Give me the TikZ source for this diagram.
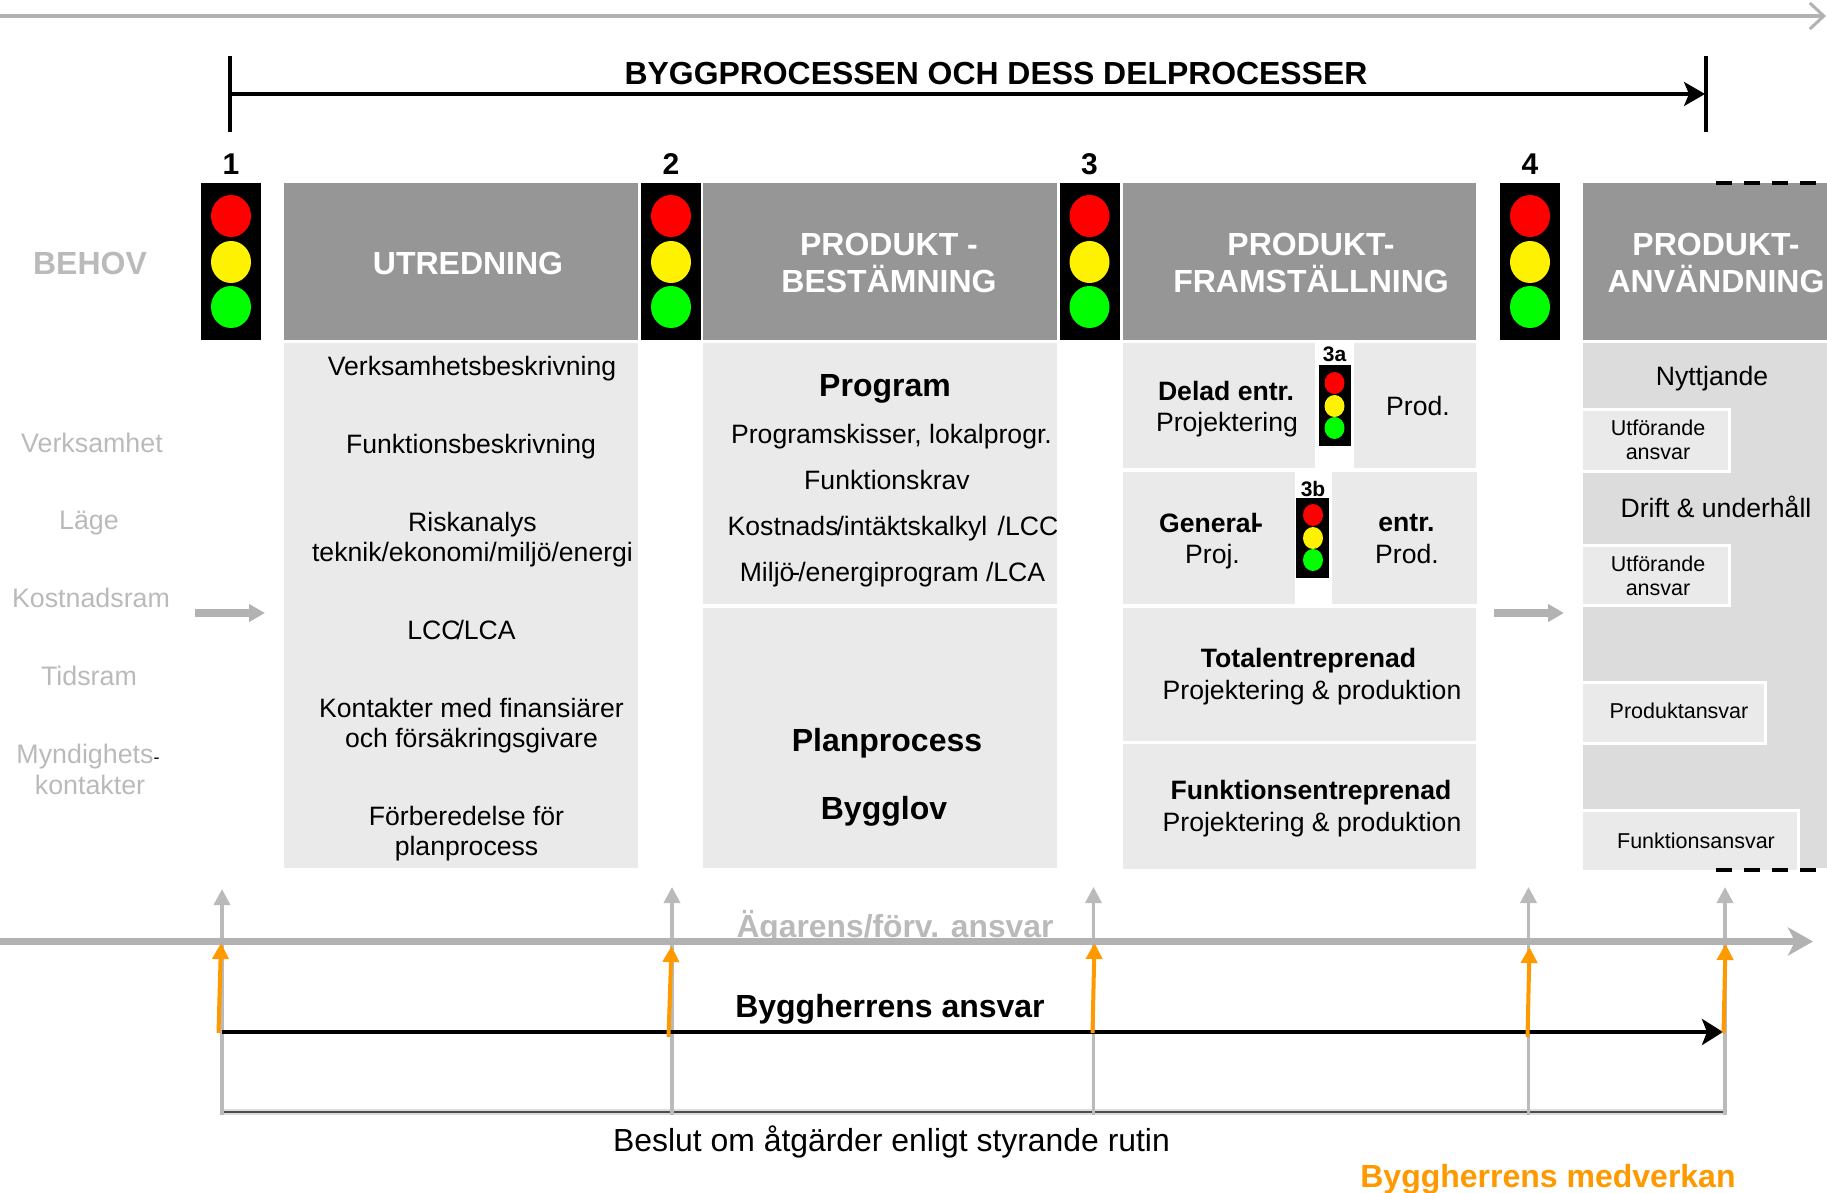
\documentclass[tikz,border=0pt]{standalone}
\usepackage{fontspec}
\setmainfont{Liberation Sans}
\usetikzlibrary{shapes.geometric,arrows.meta}
\definecolor{headgray}{HTML}{969696}
\definecolor{cellgray}{HTML}{EAEAEA}
\definecolor{usegray}{HTML}{DCDCDC}
\definecolor{labelgray}{HTML}{BABABA}
\definecolor{linegray}{HTML}{B2B2B2}
\definecolor{ordergold}{HTML}{FF9900}
\tikzstyle{boxbase}=[rectangle, anchor=north west, inner sep=0pt, outer sep=0pt]
\tikzstyle{head}=[boxbase, fill=headgray]
\tikzstyle{cell}=[boxbase, fill=cellgray]
\tikzstyle{duty}=[boxbase, fill=cellgray, draw=white, line width=3pt]
\tikzstyle{signal}=[boxbase, fill=black]
\tikzstyle{headtext}=[align=center, text=white, font=\fontsize{32}{37}\selectfont\bfseries]
\tikzstyle{celltext}=[align=center, font=\fontsize{26.6}{30.5}\selectfont]
\tikzstyle{boldtext}=[align=center, font=\fontsize{26.6}{30.5}\selectfont\bfseries]
\tikzstyle{bigtext}=[align=center, font=\fontsize{32}{37}\selectfont\bfseries]
\tikzstyle{smalltext}=[align=center, font=\fontsize{21.5}{24}\selectfont]
\tikzstyle{sidetext}=[align=center, text=labelgray, font=\fontsize{26.8}{30.5}\selectfont]
\tikzstyle{number}=[font=\fontsize{30}{34}\selectfont\bfseries]
\tikzstyle{lamp}=[ellipse, inner sep=0pt, minimum width=40pt, minimum height=42pt]
\tikzstyle{smalllamp}=[ellipse, inner sep=0pt, minimum width=20pt, minimum height=22pt]

\begin{document}
\begin{tikzpicture}[
        x=1pt, y=-1pt,
        greyline/.style={line width=3.5pt, draw=labelgray, -{Triangle[width=16pt,length=16pt]}},
        orangeline/.style={line width=4pt, draw=ordergold, -{Triangle[width=16pt,length=16pt]}},
        hint/.style={line width=8pt, draw=linegray, -{Triangle[width=17pt,length=16pt]}},
      ]
      \useasboundingbox (0,0) rectangle (1827,1193);
      % top rule and title
      \coordinate (topleft) at (0,16);
      \coordinate (topright) at (1826,16);
      \draw [line width=3.5pt, draw=linegray, -{Straight Barb[length=14pt,width=26pt,line width=3pt]}] (topleft) -- (topright);
      \coordinate (spanl) at (230,94);
      \coordinate (spanr) at (1705,94);
      \coordinate (tickla) at (230,56);
      \coordinate (ticklb) at (230,132);
      \coordinate (tickra) at (1706,56);
      \coordinate (tickrb) at (1706,132);
      \draw [line width=3.5pt] (tickla) -- (ticklb);
      \draw [line width=3.5pt] (tickra) -- (tickrb);
      \draw [line width=3.5pt, -{Stealth[length=21pt,width=24pt,inset=5pt]}] (spanl) -- (spanr);
      \node (title) [font=\fontsize{31.9}{38}\selectfont\bfseries] at (996,74) {BYGGPROCESSEN OCH DESS DELPROCESSER};

      % header row
      \node (utredning) [head, minimum width=354pt, minimum height=157pt] at (283.5,183) {};
      \node (bestamning) [head, minimum width=354pt, minimum height=157pt] at (703,183) {};
      \node (framstallning) [head, minimum width=353pt, minimum height=157pt] at (1123,183) {};
      \node (anvandning) [head, minimum width=244pt, minimum height=157pt] at (1583,183) {};
      \node (utredningtext) [headtext] at (468,263) {UTREDNING};
      \node (bestamningtext) [headtext] at (889,263) {PRODUKT -\\BESTÄMNING};
      \node (framstallningtext) [headtext] at (1311,263) {PRODUKT-\\FRAMSTÄLLNING};
      \node (anvandningtext) [headtext] at (1716,263) {PRODUKT-\\ANVÄNDNING};
      \node (behov) [text=labelgray, font=\fontsize{32}{37}\selectfont\bfseries] at (90,263) {BEHOV};

      % big signals
      \foreach \name/\lx/\num in {one/231/1, two/671/2, three/1089.5/3, four/1530/4} {
        \node (\name) [signal, minimum width=60pt, minimum height=157pt] at (\lx-30,183) {};
        \node (\name red) [lamp, fill=red] at (\lx,216) {};
        \node (\name yellow) [lamp, fill=yellow] at (\lx,262) {};
        \node (\name green) [lamp, fill=green] at (\lx,307) {};
        \node (\name num) [number] at (\lx,164) {\num};
      }

      % first column
      \node (utredningcell) [cell, minimum width=354pt, minimum height=525pt] at (283.5,343) {};
      \node (verksamhet) [celltext] at (472,368.5) {Verksamhetsbeskrivning};
      \node (funktion) [celltext] at (471,446.5) {Funktionsbeskrivning};
      \node (risk) [celltext] at (472.5,539.5) {Riskanalys\\teknik/ekonomi/miljö/energi};
      \node (lcc) [celltext] at (461.5,629.5) {LCC\kern-4pt/LCA};
      \node (kontakter) [celltext] at (471.5,725.5) {Kontakter med finansiärer\\och försäkringsgivare};
      \node (forberedelse) [celltext] at (466.5,833.5) {Förberedelse för\\planprocess};

      % second column
      \node (programcell) [cell, minimum width=354pt, minimum height=261pt] at (703,343) {};
      \node (plancell) [cell, minimum width=354pt, minimum height=260pt] at (703,608) {};
      \node (program) [bigtext] at (885,388.5) {Program};
      \node (skisser) [celltext] at (891.5,436.5) {Programskisser, lokalprogr.};
      \node (krav) [celltext] at (887,480) {Funktionskrav};
      \node (kalkyl) [celltext] at (893,528.5) {Kostnads\kern-2pt/intäktskalkyl\kern3pt{} /LCC};
      \node (miljo) [celltext] at (892.5,574.5) {Miljö\kern-3pt-\kern-2pt/energiprogram /LCA};
      \node (planprocess) [bigtext] at (887,743.5) {Planprocess};
      \node (bygglov) [bigtext] at (884,811.5) {Bygglov};

      % third column
      \node (deladcell) [cell, minimum width=192pt, minimum height=125pt] at (1123,343) {};
      \node (deladprod) [cell, minimum width=122pt, minimum height=125pt] at (1354,343) {};
      \node (generalcell) [cell, minimum width=172pt, minimum height=132pt] at (1123,472) {};
      \node (generalprod) [cell, minimum width=145pt, minimum height=132pt] at (1331.5,472) {};
      \node (totalcell) [cell, minimum width=353pt, minimum height=133pt] at (1123,608) {};
      \node (funktionscell) [cell, minimum width=353pt, minimum height=125pt] at (1123,743.5) {};
      \node (delad) [boldtext] at (1226,390.5) {Delad entr.};
      \node (deladproj) [celltext] at (1227,424.5) {Projektering};
      \node (deladprodtext) [celltext] at (1418,406) {Prod.};
      \node (general) [boldtext] at (1211,522.5) {General\kern-4pt-};
      \node (generalproj) [celltext] at (1212.5,556.5) {Proj.};
      \node (entr) [boldtext] at (1406.5,522.5) {entr.};
      \node (entrprod) [celltext] at (1407,554) {Prod.};
      \node (total) [boldtext] at (1308.5,660.5) {Totalentreprenad};
      \node (totalproj) [celltext] at (1312,692.5) {Projektering \& produktion};
      \node (funktionsentr) [boldtext] at (1311,792.5) {Funktionsentreprenad};
      \node (funktionsproj) [celltext] at (1312,824.5) {Projektering \& produktion};

      % small signals
      \node (signala) [signal, minimum width=32.5pt, minimum height=81pt] at (1318.5,365) {};
      \node (signalb) [signal, minimum width=32.5pt, minimum height=80pt] at (1296,498) {};
      \foreach \name/\lx/\ly/\num/\cap in {signala/1334.5/383/3a/354, signalb/1313/515/3b/489} {
        \node (\name red) [smalllamp, fill=red] at (\lx,\ly) {};
        \node (\name yellow) [smalllamp, fill=yellow] at (\lx,\ly+23) {};
        \node (\name green) [smalllamp, fill=green] at (\lx,\ly+45) {};
        \node (\name num) [font=\fontsize{21}{24}\selectfont\bfseries] at (\lx,\cap) {\num};
      }

      % last column
      \node (usecell) [boxbase, fill=usegray, minimum width=244pt, minimum height=525pt] at (1583,343) {};
      \node (nyttjande) [celltext] at (1712,378.5) {Nyttjande};
      \node (drift) [celltext] at (1716,507) {Drift \& underhåll};
      \node (dutya) [duty, minimum width=148pt, minimum height=61.5pt] at (1581,409.5) {};
      \node (dutyb) [duty, minimum width=148pt, minimum height=60pt] at (1581,545.5) {};
      \node (dutyc) [duty, minimum width=184pt, minimum height=61pt] at (1581,682) {};
      \node (dutyd) [duty, minimum width=217pt, minimum height=61pt] at (1581,810) {};
      \node (dutyatext) [smalltext] at (1658,440) {Utförande\\ansvar};
      \node (dutybtext) [smalltext] at (1658,576) {Utförande\\ansvar};
      \node (dutyctext) [smalltext] at (1679,711) {Produktansvar};
      \node (dutydtext) [smalltext] at (1696,841) {Funktionsansvar};
      \coordinate (dashtopa) at (1716,183);
      \coordinate (dashtopb) at (1817,183);
      \coordinate (dashbota) at (1716,870);
      \coordinate (dashbotb) at (1817,870);
      \draw [line width=4pt, dash pattern=on 16pt off 12pt] (dashtopa) -- (dashtopb);
      \draw [line width=4pt, dash pattern=on 16pt off 12pt] (dashbota) -- (dashbotb);

      % left labels
      \node (verksamhetside) [sidetext] at (92,443) {Verksamhet};
      \node (lage) [sidetext] at (89,523.5) {Läge};
      \node (kostnad) [sidetext] at (91,598) {Kostnadsram};
      \node (tidsram) [sidetext] at (89,676) {Tidsram};
      \node (myndighet) [sidetext] at (88,757) {Myndighets{\color{black}\fontsize{18}{20}\selectfont -}};
      \node (kontakter2) [sidetext] at (90,785) {kontakter};

      % hint arrows
      \coordinate (hintaa) at (195,613);
      \coordinate (hintab) at (265,613);
      \coordinate (hintba) at (1494,613);
      \coordinate (hintbb) at (1564,613);
      \draw [hint] (hintaa) -- (hintab);
      \draw [hint] (hintba) -- (hintbb);

      % lower part
      \node (agare) [text=labelgray, font=\fontsize{31.8}{37}\selectfont\bfseries, anchor=base] at (895,937) {Ägarens/förv. ansvar};
      \coordinate (ownl) at (0,941.5);
      \coordinate (ownr) at (1813,941.5);
      \coordinate (basel) at (222,1112);
      \coordinate (baser) at (1724,1112);
      \draw [line width=6pt, draw=usegray] (basel) -- (baser);
      \draw [line width=2pt, draw=black!70] (basel) -- (baser);
      \foreach \name/\lx/\tip in {a/222/889, b/672/887, c/1093.5/887, d/1528.5/887, e/1725/887} {
        \coordinate (g\name bot) at (\lx,1115);
        \coordinate (g\name top) at (\lx,\tip);
        \draw [greyline] (g\name bot) -- (g\name top);
      }
      \draw [line width=7pt, draw=linegray, -{Stealth[length=25pt,width=28pt,inset=7pt]}] (ownl) -- (ownr);
      \coordinate (ownerl) at (222,1032);
      \coordinate (ownerr) at (1723,1032);
      \draw [line width=4pt, -{Stealth[length=21pt,width=26pt,inset=5pt]}] (ownerl) -- (ownerr);
      \foreach \name/\lx/\ly/\tx/\ty in {a/218.5/1033/221/943, b/668.5/1037/671.5/946, c/1092.5/1033/1094.5/943, d/1527.5/1037/1529.5/947, e/1723.5/1033/1725.5/944} {
        \coordinate (o\name bot) at (\lx,\ly);
        \coordinate (o\name top) at (\tx,\ty);
        \draw [orangeline] (o\name bot) -- (o\name top);
      }
      \node (byggherre) [bigtext] at (890,1009.5) {Byggherrens ansvar};
      \node (beslut) [font=\fontsize{31.9}{36}\selectfont] at (891.5,1142) {Beslut om åtgärder enligt styrande rutin};
      \node (medverkan) [text=ordergold, font=\fontsize{32}{37}\selectfont\bfseries] at (1548,1179) {Byggherrens medverkan};
    \end{tikzpicture}
\end{document}
